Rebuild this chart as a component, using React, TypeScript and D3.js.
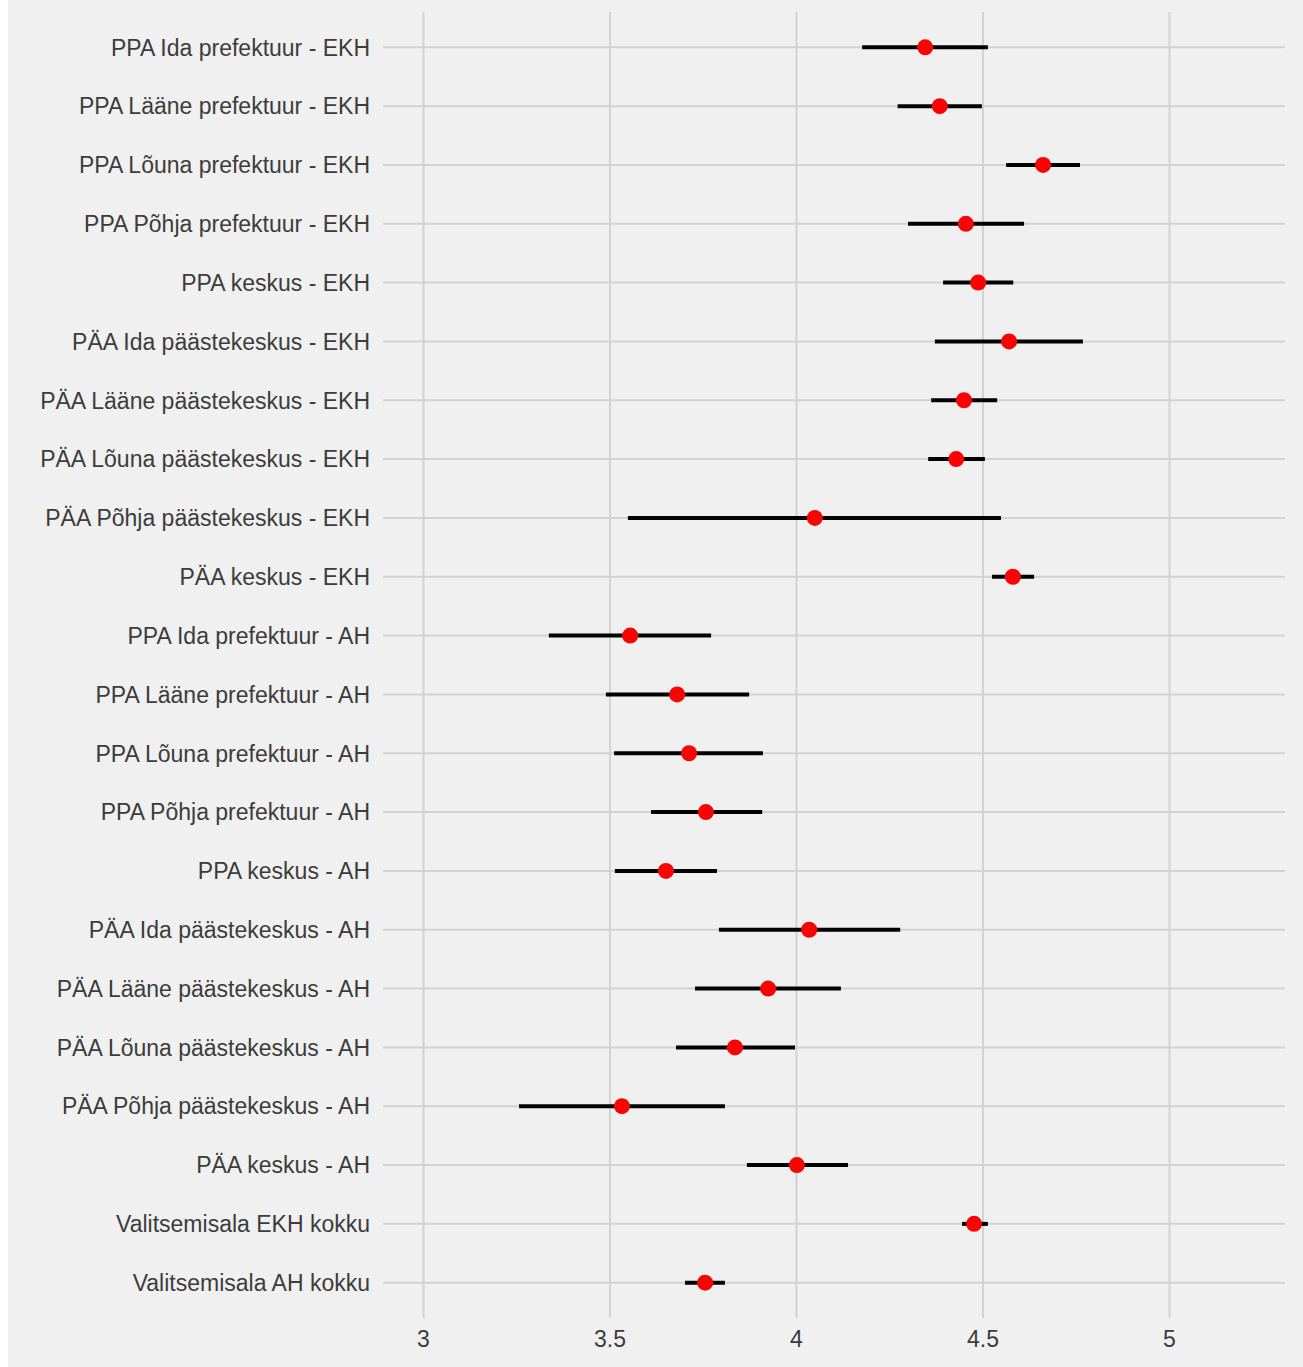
import React from "react";
import * as d3 from "d3";

const categories = [
  "PPA Ida prefektuur - EKH",
  "PPA Lääne prefektuur - EKH",
  "PPA Lõuna prefektuur - EKH",
  "PPA Põhja prefektuur - EKH",
  "PPA keskus - EKH",
  "PÄA Ida päästekeskus - EKH",
  "PÄA Lääne päästekeskus - EKH",
  "PÄA Lõuna päästekeskus - EKH",
  "PÄA Põhja päästekeskus - EKH",
  "PÄA keskus - EKH",
  "PPA Ida prefektuur - AH",
  "PPA Lääne prefektuur - AH",
  "PPA Lõuna prefektuur - AH",
  "PPA Põhja prefektuur - AH",
  "PPA keskus - AH",
  "PÄA Ida päästekeskus - AH",
  "PÄA Lääne päästekeskus - AH",
  "PÄA Lõuna päästekeskus - AH",
  "PÄA Põhja päästekeskus - AH",
  "PÄA keskus - AH",
  "Valitsemisala EKH kokku",
  "Valitsemisala AH kokku",
];

const means = [4.345, 4.384, 4.661, 4.454, 4.487, 4.57, 4.449, 4.428, 4.049, 4.58, 3.554, 3.68, 3.712, 3.757, 3.65, 4.034, 3.924, 3.835, 3.532, 4.001, 4.476, 3.755];
const lower = [4.176, 4.271, 4.562, 4.299, 4.393, 4.371, 4.361, 4.353, 3.548, 4.524, 3.336, 3.489, 3.511, 3.61, 3.513, 3.792, 3.728, 3.677, 3.256, 3.867, 4.444, 3.701];
const upper = [4.513, 4.497, 4.76, 4.61, 4.581, 4.768, 4.538, 4.505, 4.548, 4.637, 3.771, 3.873, 3.91, 3.908, 3.787, 4.278, 4.119, 3.996, 3.808, 4.138, 4.513, 3.808];

const xTicks = [3, 3.5, 4, 4.5, 5];

export default function App() {
  const W = 1303;
  const H = 1367;
  const left = 383;
  const right = 1285;
  const top = 12;
  const bottom = 1318;
  const x = d3.scaleLinear().domain([2.8914, 5.3096]).range([left, right]);
  const y = d3
    .scalePoint<string>()
    .domain(categories)
    .range([top, bottom])
    .padding(0.6);
  const font = "'Liberation Sans', Arial, sans-serif";
  const grid = "#D2D2D2";
  const txt = "#3C3C3C";
  return (
    <div style={{ position: "absolute", left: 0, top: 0 }}>
      <svg width={W} height={H} style={{ display: "block" }}>
        <rect x={0} y={0} width={W} height={H} fill="#ffffff" />
        <rect x={8} y={0} width={W - 8} height={H} fill="#F0F0F0" />
        {xTicks.map((t) => (
          <line key={"v" + t} x1={x(t)} x2={x(t)} y1={top} y2={bottom} stroke={grid} strokeWidth={2} />
        ))}
        {categories.map((c) => (
          <line key={"h" + c} x1={left} x2={right} y1={y(c)} y2={y(c)} stroke={grid} strokeWidth={2} />
        ))}
        {categories.map((c, i) => (
          <line
            key={"e" + c}
            x1={x(lower[i])}
            x2={x(upper[i])}
            y1={y(c)}
            y2={y(c)}
            stroke="#000"
            strokeWidth={4}
          />
        ))}
        {categories.map((c, i) => (
          <circle key={"p" + c} cx={x(means[i])} cy={y(c)} r={8} fill="#FF0000" />
        ))}
        {categories.map((c) => (
          <text
            key={"l" + c}
            x={370}
            y={y(c)}
            dy="0.36em"
            textAnchor="end"
            fontFamily={font}
            fontSize={23}
            fill={txt}
          >
            {c}
          </text>
        ))}
        {xTicks.map((t) => (
          <text
            key={"t" + t}
            x={x(t)}
            y={1339}
            dy="0.36em"
            textAnchor="middle"
            fontFamily={font}
            fontSize={23}
            fill={txt}
          >
            {String(t)}
          </text>
        ))}
      </svg>
    </div>
  );
}
